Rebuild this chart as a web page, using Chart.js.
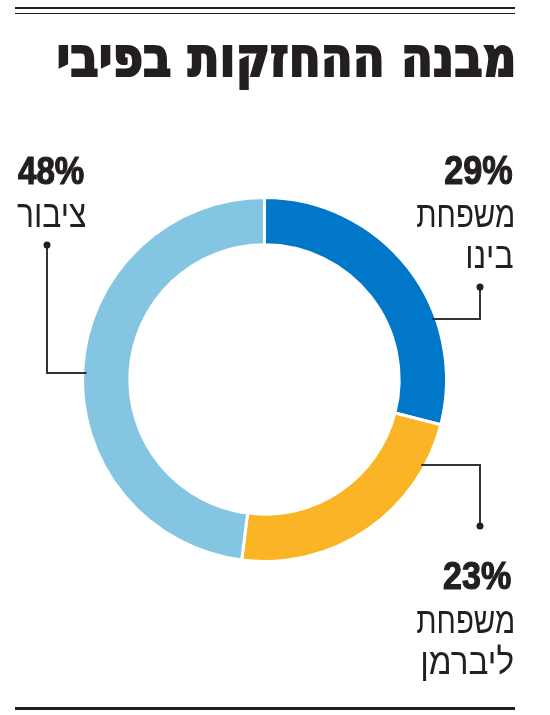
<!DOCTYPE html>
<html lang="he">
<head>
<meta charset="utf-8">
<script src="https://cdn.jsdelivr.net/npm/chart.js@4/dist/chart.umd.min.js"></script>
<style>
  html, body { margin: 0; padding: 0; background: #ffffff; }
  #wrap { position: relative; width: 550px; height: 715px; }
  canvas { display: block; }
</style>
</head>
<body>
<div id="wrap"><canvas id="c" width="550" height="715"></canvas></div>
<script>
// ---- data ----
const title = 'מבנה ההחזקות בפיבי';
const categoryLine1 = ['משפחת', 'משפחת', 'ציבור'];
const categoryLine2 = ['בינו', 'ליברמן', ''];
const values = [29, 23, 48];
const percentLabels = ['29%', '23%', '48%'];
const colors = ['#0077c8', '#fbb425', '#84c6e1'];

const INK = '#231f20';
const HEB = "'Liberation Sans', 'DejaVu Sans', sans-serif";
const NUM = "'Liberation Sans', 'DejaVu Sans', sans-serif";
const TITLEF = "'DejaVu Sans', 'Liberation Sans', sans-serif";

// draw text so its ink fills a box: left edge L, width W, baseline B, glyph height H (from ref)
function fitText(ctx, text, family, weight, ref, H, L, W, B, stroke) {
  ctx.save();
  ctx.textAlign = 'left';
  ctx.textBaseline = 'alphabetic';
  ctx.font = weight + ' 100px ' + family;
  const r = ctx.measureText(ref);
  const size = 100 * H / r.actualBoundingBoxAscent;
  ctx.font = weight + ' ' + size + 'px ' + family;
  const m = ctx.measureText(text);
  const w = m.actualBoundingBoxLeft + m.actualBoundingBoxRight;
  const sx = W / w;
  ctx.translate(L, B);
  ctx.scale(sx, 1);
  ctx.fillStyle = INK;
  ctx.fillText(text, m.actualBoundingBoxLeft, 0);
  if (stroke) {
    ctx.strokeStyle = INK;
    ctx.lineWidth = stroke;
    ctx.lineJoin = 'miter';
    ctx.strokeText(text, m.actualBoundingBoxLeft, 0);
  }
  ctx.restore();
}

const decor = {
  id: 'decor',
  afterDraw(chart) {
    const ctx = chart.ctx;
    const arc = chart.getDatasetMeta(0).data[0];
    const cx = arc.x, cy = arc.y, R = arc.outerRadius;
    ctx.save();
    // rules
    ctx.fillStyle = '#231f20';
    ctx.fillRect(15, 7, 500, 2);
    ctx.fillRect(15, 13, 500, 1);
    ctx.fillRect(15, 707, 500, 3);

    // title
    fitText(ctx, title, TITLEF, 'bold', 'מבנה', 31, 59, 454, 76, 2.2);

    // percentages
    fitText(ctx, percentLabels[0], NUM, 'bold', '29', 29, 445, 67, 184, 1.2);
    fitText(ctx, percentLabels[1], NUM, 'bold', '23', 27, 444, 67, 589, 1.2);
    fitText(ctx, percentLabels[2], NUM, 'bold', '48', 27, 18, 66, 184, 1.2);

    // category names
    fitText(ctx, categoryLine1[0], HEB, 'normal', 'משפחת', 22, 417, 96, 227);
    fitText(ctx, categoryLine2[0], HEB, 'normal', 'משפחת', 22, 468, 45, 268);
    fitText(ctx, categoryLine1[1], HEB, 'normal', 'משפחת', 22, 417, 96, 633);
    fitText(ctx, categoryLine2[1], HEB, 'normal', 'משפחת', 22, 423, 90, 674);
    fitText(ctx, categoryLine1[2], HEB, 'normal', 'משפחת', 23, 17, 68, 227);

    // leader lines
    ctx.strokeStyle = '#333333';
    ctx.fillStyle = '#231f20';
    ctx.lineWidth = 2;
    const edge = (y, side) => cx + side * (Math.sqrt(R * R - (y - cy) * (y - cy)) - 4);
    function leader(dotX, dotY, turnY, side) {
      ctx.beginPath();
      ctx.moveTo(dotX, dotY);
      ctx.lineTo(dotX, turnY);
      ctx.lineTo(edge(turnY, side), turnY);
      ctx.stroke();
      ctx.beginPath();
      ctx.arc(dotX, dotY, 3.5, 0, Math.PI * 2);
      ctx.fill();
    }
    leader(480, 287, 319, 1);
    leader(480, 526, 465, 1);
    leader(47, 245, 373, -1);
    ctx.restore();
  }
};

new Chart(document.getElementById('c'), {
  type: 'doughnut',
  data: {
    labels: categoryLine1.map((a, i) => (a + ' ' + categoryLine2[i]).trim()),
    datasets: [{
      data: values,
      backgroundColor: colors,
      borderColor: '#ffffff',
      borderWidth: 3,
      hoverOffset: 0
    }]
  },
  options: {
    responsive: false,
    devicePixelRatio: 1,
    animation: false,
    cutout: '74%',
    layout: { padding: { left: 81, right: 102, top: 196, bottom: 152 } },
    plugins: { legend: { display: false }, tooltip: { enabled: false } },
    events: []
  },
  plugins: [decor]
});
</script>
</body>
</html>
